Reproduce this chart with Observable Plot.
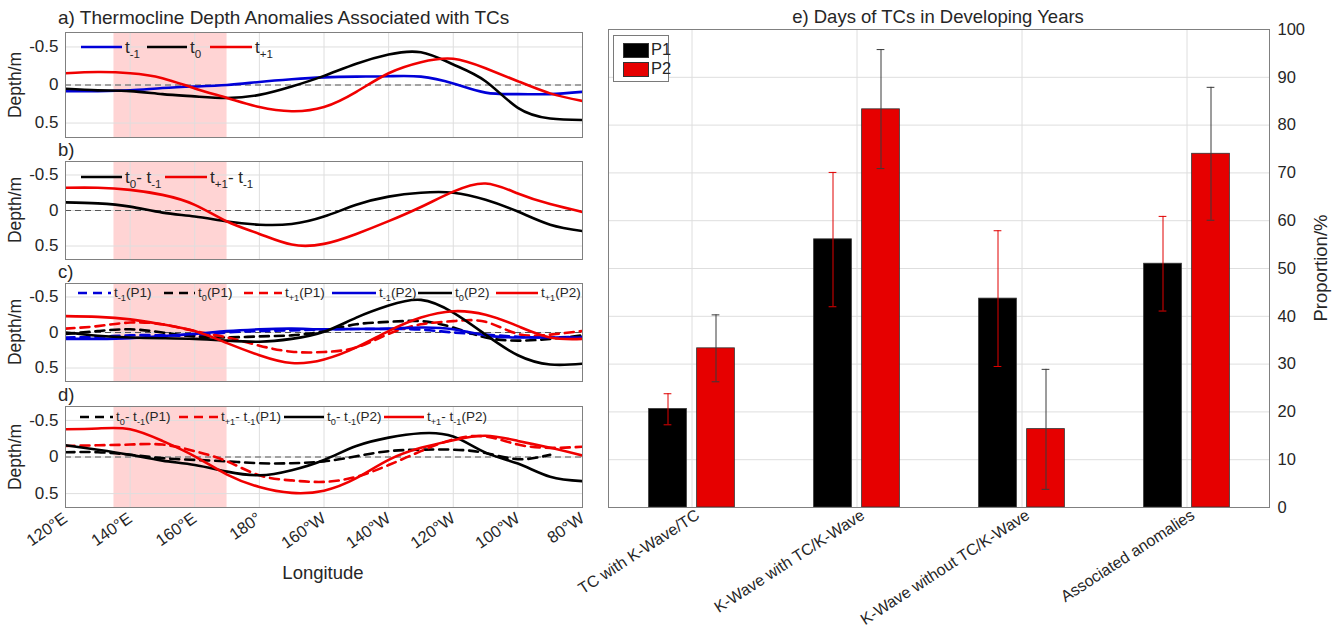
<!DOCTYPE html>
<html>
<head>
<meta charset="utf-8">
<script src="https://cdn.jsdelivr.net/npm/d3@7"></script>
<script src="https://cdn.jsdelivr.net/npm/@observablehq/plot@0.6"></script>
<style>
  body { margin: 0; background: #fff; }
  #root { position: relative; width: 1340px; height: 633px; overflow: hidden; font-family: "Liberation Sans", Arial, sans-serif; color: #262626; }
  .txt { position: absolute; white-space: nowrap; line-height: 1; }
  .leg { position: absolute; display: flex; align-items: center; white-space: nowrap; height: 20px; }
  .leg svg { flex: none; }
  .leg span { margin-left: 3px; line-height: 1; }
  sub { font-size: 68%; vertical-align: -0.4em; line-height: 0; }
</style>
</head>
<body>
<div id="root"></div>
<script>
// ---------------- data ----------------
// longitude grid, degrees east (120E ... 80W = 280E)
const lon = [120, 130, 140, 150, 160, 170, 180, 190, 200, 210, 220, 230, 240, 250, 260, 270, 280];
const lonShort = [120, 130, 140, 150, 160, 170, 180, 190, 200, 210, 220, 230, 240, 250, 260, 270];
const lonTicks = [120, 140, 160, 180, 200, 220, 240, 260, 280];
const depthTicks = [-0.5, 0, 0.5];
const shadeLon = [135, 170];

// a) thermocline depth anomalies
const aTm1 = [0.08, 0.08, 0.07, 0.04, 0.02, 0.0, -0.04, -0.075, -0.1, -0.11, -0.115, -0.11, -0.02, 0.1, 0.12, 0.12, 0.09];
const aT0  = [0.05, 0.07, 0.08, 0.12, 0.15, 0.17, 0.13, 0.02, -0.12, -0.28, -0.4, -0.43, -0.27, -0.05, 0.3, 0.44, 0.46];
const aTp1 = [-0.155, -0.17, -0.155, -0.09, 0.045, 0.17, 0.29, 0.345, 0.29, 0.09, -0.155, -0.3, -0.345, -0.22, -0.05, 0.11, 0.21];

// b) differences
const bT0  = [-0.115, -0.1, -0.055, 0.03, 0.085, 0.155, 0.2, 0.19, 0.085, -0.08, -0.195, -0.25, -0.25, -0.15, 0.015, 0.2, 0.29];
const bTp1 = [-0.32, -0.32, -0.29, -0.22, -0.08, 0.155, 0.33, 0.48, 0.47, 0.33, 0.15, -0.05, -0.265, -0.38, -0.24, -0.09, 0.02];

// c) P1 (dashed) and P2 (solid)
const cTm1P1 = [0.07, 0.06, 0.04, 0.04, 0.04, 0.0, -0.02, -0.03, -0.045, -0.05, -0.05, -0.04, 0.0, 0.03, 0.06, 0.07, 0.06];
const cT0P1  = [0.02, -0.02, -0.045, 0.0, 0.055, 0.07, 0.055, 0.04, -0.02, -0.115, -0.15, -0.16, -0.07, 0.07, 0.115, 0.09, 0.04];
const cTp1P1 = [-0.055, -0.09, -0.14, -0.115, -0.02, 0.07, 0.185, 0.27, 0.275, 0.21, 0.02, -0.115, -0.16, -0.15, 0.02, 0.03, -0.02];
const cTm1P2 = [0.09, 0.09, 0.08, 0.05, 0.02, -0.02, -0.045, -0.055, -0.045, -0.05, -0.055, -0.07, -0.045, 0.04, 0.07, 0.07, 0.07];
const cT0P2  = [0.0, 0.045, 0.07, 0.08, 0.09, 0.115, 0.13, 0.09, -0.01, -0.21, -0.38, -0.46, -0.28, 0.03, 0.32, 0.45, 0.44];
const cTp1P2 = [-0.23, -0.22, -0.185, -0.115, -0.02, 0.15, 0.32, 0.43, 0.38, 0.21, -0.02, -0.21, -0.3, -0.25, -0.09, 0.07, 0.09];

// d) differences P1 (dashed) and P2 (solid)
const dT0P1  = [-0.065, -0.065, -0.03, 0.015, 0.04, 0.06, 0.085, 0.085, 0.06, -0.01, -0.08, -0.1, -0.1, -0.055, 0.03, -0.03];
const dTp1P1 = [-0.15, -0.16, -0.17, -0.17, -0.08, 0.06, 0.25, 0.32, 0.34, 0.27, 0.11, -0.08, -0.24, -0.28, -0.17, -0.125, -0.14];
const dT0P2  = [-0.16, -0.1, -0.03, 0.05, 0.11, 0.2, 0.25, 0.18, 0.04, -0.15, -0.265, -0.325, -0.28, -0.06, 0.09, 0.27, 0.33];
const dTp1P2 = [-0.38, -0.39, -0.38, -0.22, -0.01, 0.24, 0.41, 0.49, 0.46, 0.29, 0.04, -0.125, -0.23, -0.29, -0.22, -0.125, -0.02];

// e) days of TCs in developing years (proportion, %)
const categories = ["TC with K-Wave/TC", "K-Wave with TC/K-Wave", "K-Wave without TC/K-Wave", "Associated anomalies"];
const p1   = [20.6, 56.1, 43.7, 51.0];
const p1Lo = [17.3, 42.0, 29.5, 41.1];
const p1Hi = [23.8, 70.1, 57.9, 60.9];
const p2   = [33.3, 83.3, 16.4, 74.0];
const p2Lo = [26.3, 70.9, 3.8, 60.1];
const p2Hi = [40.3, 95.8, 28.9, 87.9];
const pctTicks = [0, 10, 20, 30, 40, 50, 60, 70, 80, 90, 100];

// ---------------- styling ----------------
const FONT = '"Liberation Sans", Arial, sans-serif';
const BLUE = "#0000d8", BLACK = "#000000", RED = "#f00000";
const GRID = "#dedede", FRAME = "#808080";
const root = document.getElementById("root");

function lonFmt(d) {
  if (d < 180) return d + "°E";
  if (d === 180) return "180°";
  return (360 - d) + "°W";
}

function place(el, left, top) {
  el.style.position = "absolute";
  el.style.left = left + "px";
  el.style.top = top + "px";
  root.appendChild(el);
}

function text(html, left, top, size, extra) {
  const d = document.createElement("div");
  d.className = "txt";
  d.innerHTML = html;
  d.style.fontSize = size + "px";
  d.style.left = left + "px";
  d.style.top = top + "px";
  if (extra) Object.assign(d.style, extra);
  root.appendChild(d);
  return d;
}

function legend(items, yCenter, size) {
  items.forEach(it => {
    const d = document.createElement("div");
    d.className = "leg";
    d.style.left = it.x + "px";
    d.style.top = (yCenter - 10) + "px";
    d.style.fontSize = size + "px";
    d.innerHTML = `<svg width="${it.w}" height="8"><line x1="0" y1="4" x2="${it.w}" y2="4" stroke="${it.color}" stroke-width="2.6" ${it.dash ? 'stroke-dasharray="9,6"' : ""}/></svg><span>${it.label}</span>`;
    root.appendChild(d);
  });
}

// ---------------- left panels ----------------
function linePanel(series, frameTop, frameBottom, withX) {
  const mt = 3, mb = withX ? 75 : 3;
  const marks = [
    Plot.rect([shadeLon], {x1: d => d[0], x2: d => d[1], fill: "#ffd4d4"}),
    Plot.gridX(lonTicks, {stroke: GRID, strokeOpacity: 1}),
    Plot.gridY(depthTicks, {stroke: GRID, strokeOpacity: 1}),
    Plot.ruleY([0], {stroke: "#555", strokeWidth: 1, strokeDasharray: "6,4"}),
    ...series.map(s => Plot.line(s.values, {
      x: s.lon, y: d => d, curve: "natural", clip: true,
      stroke: s.color, strokeWidth: 2.6, strokeDasharray: s.dash ? "9,6" : null
    })),
    Plot.frame({stroke: FRAME}),
    Plot.axisY(depthTicks, {tickFormat: d => String(d), tickSize: 0, tickPadding: 7, label: null, fontSize: 17})
  ];
  if (withX) marks.push(Plot.axisX(lonTicks, {tickFormat: lonFmt, tickRotate: -35, tickSize: 0, tickPadding: 9, label: null, fontSize: 16.5}));
  const p = Plot.plot({
    width: 600,
    height: frameBottom - frameTop + mt + mb,
    marginLeft: 65, marginRight: 18, marginTop: mt, marginBottom: mb,
    style: {fontFamily: FONT, color: "#262626", background: "transparent", overflow: "visible"},
    x: withX ? {domain: [120, 280]} : {domain: [120, 280], axis: null},
    y: {domain: [-0.69, 0.69], reverse: true},
    marks
  });
  place(p, 0, frameTop - mt);
  const mid = (frameTop + frameBottom) / 2;
  text("Depth/m", 16, mid, 17.5, {transform: "translate(-50%,-50%) rotate(-90deg)", transformOrigin: "center"});
}

const panels = [
  {top: 32, bottom: 137, series: [
    {lon, values: aTm1, color: BLUE},
    {lon, values: aT0, color: BLACK},
    {lon, values: aTp1, color: RED}]},
  {top: 161, bottom: 259, series: [
    {lon, values: bT0, color: BLACK},
    {lon, values: bTp1, color: RED}]},
  {top: 283, bottom: 381, series: [
    {lon, values: cTm1P1, color: BLUE, dash: true},
    {lon, values: cT0P1, color: BLACK, dash: true},
    {lon, values: cTp1P1, color: RED, dash: true},
    {lon, values: cTm1P2, color: BLUE},
    {lon, values: cT0P2, color: BLACK},
    {lon, values: cTp1P2, color: RED}]},
  {top: 406, bottom: 507, x: true, series: [
    {lon: lonShort, values: dT0P1, color: BLACK, dash: true},
    {lon, values: dTp1P1, color: RED, dash: true},
    {lon, values: dT0P2, color: BLACK},
    {lon, values: dTp1P2, color: RED}]}
];
panels.forEach(p => linePanel(p.series, p.top, p.bottom, !!p.x));

text("a) Thermocline Depth Anomalies Associated with TCs", 58, 8, 19);
text("b)", 58, 141, 18.5);
text("c)", 58, 263, 18.5);
text("d)", 58, 386, 18.5);
text("Longitude", 323, 573, 18.5, {transform: "translate(-50%,-50%)"});

legend([
  {x: 81, w: 41, color: BLUE, label: "t<sub>-1</sub>"},
  {x: 147, w: 40, color: BLACK, label: "t<sub>0</sub>"},
  {x: 210, w: 42, color: RED, label: "t<sub>+1</sub>"}
], 47, 17);
legend([
  {x: 81, w: 41, color: BLACK, label: "t<sub>0</sub>- t<sub>-1</sub>"},
  {x: 165, w: 42, color: RED, label: "t<sub>+1</sub>- t<sub>-1</sub>"}
], 177, 17);
legend([
  {x: 78, w: 33, color: BLUE, dash: true, label: "t<sub>-1</sub>(P1)"},
  {x: 164, w: 31, color: BLACK, dash: true, label: "t<sub>0</sub>(P1)"},
  {x: 244, w: 38, color: RED, dash: true, label: "t<sub>+1</sub>(P1)"},
  {x: 332, w: 44, color: BLUE, label: "t<sub>-1</sub>(P2)"},
  {x: 418, w: 34, color: BLACK, label: "t<sub>0</sub>(P2)"},
  {x: 496, w: 42, color: RED, label: "t<sub>+1</sub>(P2)"}
], 293, 13.5);
legend([
  {x: 80, w: 33, color: BLACK, dash: true, label: "t<sub>0</sub>- t<sub>-1</sub>(P1)"},
  {x: 179, w: 39, color: RED, dash: true, label: "t<sub>+1</sub>- t<sub>-1</sub>(P1)"},
  {x: 284, w: 40, color: BLACK, label: "t<sub>0</sub>- t<sub>-1</sub>(P2)"},
  {x: 384, w: 40, color: RED, label: "t<sub>+1</sub>- t<sub>-1</sub>(P2)"}
], 417, 13.5);

// ---------------- right panel ----------------
const bars = categories.map((c, i) => ({cat: c, p1: p1[i], p1Lo: p1Lo[i], p1Hi: p1Hi[i], p2: p2[i], p2Lo: p2Lo[i], p2Hi: p2Hi[i]}));
const half = 661 / 8; // half band width in px, used for insets
const right = Plot.plot({
  width: 740, height: 633,
  marginLeft: 8, marginRight: 71, marginTop: 29, marginBottom: 126,
  style: {fontFamily: FONT, color: "#262626", background: "transparent", overflow: "visible"},
  x: {domain: categories, padding: 0},
  y: {domain: [0, 100]},
  marks: [
    Plot.gridY(pctTicks.slice(1, -1), {stroke: GRID, strokeOpacity: 1}),
    Plot.ruleX(categories, {stroke: GRID}),
    Plot.barY(bars, {x: "cat", y: "p1", fill: BLACK, stroke: "#333", strokeWidth: 0.8, insetLeft: half - 43, insetRight: half + 5}),
    Plot.barY(bars, {x: "cat", y: "p2", fill: "#e60000", stroke: "#333", strokeWidth: 0.8, insetLeft: half + 5, insetRight: half - 43}),
    Plot.ruleX(bars, {x: "cat", y1: "p1Lo", y2: "p1Hi", dx: -24, stroke: "#e00000", strokeWidth: 1}),
    Plot.tickY(bars, {x: "cat", y: "p1Lo", stroke: "#e00000", strokeWidth: 1, insetLeft: half - 28, insetRight: half + 20}),
    Plot.tickY(bars, {x: "cat", y: "p1Hi", stroke: "#e00000", strokeWidth: 1, insetLeft: half - 28, insetRight: half + 20}),
    Plot.ruleX(bars, {x: "cat", y1: "p2Lo", y2: "p2Hi", dx: 24, stroke: "#3a3a3a", strokeWidth: 1}),
    Plot.tickY(bars, {x: "cat", y: "p2Lo", stroke: "#3a3a3a", strokeWidth: 1, insetLeft: half + 20, insetRight: half - 28}),
    Plot.tickY(bars, {x: "cat", y: "p2Hi", stroke: "#3a3a3a", strokeWidth: 1, insetLeft: half + 20, insetRight: half - 28}),
    Plot.frame({stroke: FRAME}),
    Plot.axisY(pctTicks, {anchor: "right", tickSize: 0, tickPadding: 8, label: null, fontSize: 16.5}),
    Plot.axisX({tickRotate: -33, tickSize: 0, tickPadding: 6, dx: 6, label: null, fontSize: 16})
  ]
});
place(right, 600, 0);

text("e) Days of TCs in Developing Years", 938, 17, 18.5, {transform: "translate(-50%,-50%)"});
text("Proportion/%", 1321, 268, 18.5, {transform: "translate(-50%,-50%) rotate(-90deg)"});

// legend box for bars
const lb = document.createElement("div");
lb.style.cssText = "position:absolute;left:613px;top:35px;width:54px;height:45px;border:1px solid #7a7a7a;background:#fff;font-size:16.5px;";
lb.innerHTML = `
  <div style="position:absolute;left:9px;top:7px;width:24px;height:13px;background:#000;border:1px solid #333"></div>
  <div style="position:absolute;left:37px;top:5px;line-height:1">P1</div>
  <div style="position:absolute;left:9px;top:26px;width:24px;height:13px;background:#e60000;border:1px solid #333"></div>
  <div style="position:absolute;left:37px;top:24px;line-height:1">P2</div>`;
root.appendChild(lb);
</script>
</body>
</html>
